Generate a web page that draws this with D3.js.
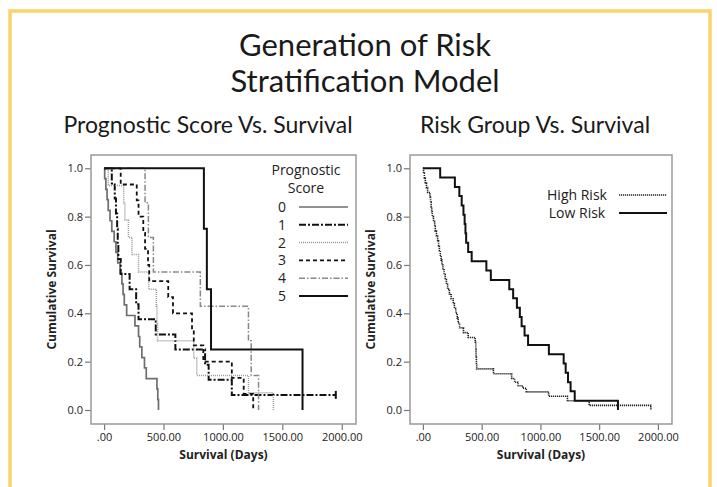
<!DOCTYPE html>
<html>
<head>
<meta charset="utf-8">
<script src="https://cdn.jsdelivr.net/npm/d3@7"></script>
<style>
  body { margin: 0; background: #fff; }
  text { font-family: "Open Sans", "Noto Sans", sans-serif; fill: #222; }
  .heading { font-family: Lato, "Open Sans", sans-serif; fill: #1a1a1a; }
</style>
</head>
<body>
<div id="chart-area"></div>
<script>
// data: [day, cumulative survival] after each event
var xTicks = [0, 500, 1000, 1500, 2000];
var yTicks = [0, 0.2, 0.4, 0.6, 0.8, 1.0];

var scoreLabels = ["0", "1", "2", "3", "4", "5"];
var score0 = [[0,1],[5,0.957],[15,0.913],[25,0.87],[35,0.826],[50,0.783],[65,0.739],[85,0.696],[100,0.652],[115,0.609],[135,0.565],[150,0.522],[160,0.478],[170,0.435],[190,0.391],[260,0.348],[290,0.304],[300,0.261],[318,0.217],[340,0.174],[355,0.130],[445,0.087],[452,0.043],[458,0]];
var score1 = [[0,1],[65,0.9375],[90,0.875],[100,0.8125],[110,0.75],[115,0.6875],[120,0.625],[140,0.5625],[215,0.5],[270,0.4375],[290,0.375],[435,0.3125],[600,0.25],[850,0.1875],[880,0.125],[1075,0.0625],[1950,0.0625]];
var score2 = [[0,1],[35,0.929],[165,0.857],[175,0.786],[205,0.714],[235,0.643],[290,0.571],[375,0.5],[440,0.429],[445,0.357],[450,0.286],[755,0.214],[780,0.143],[1215,0.071],[1425,0]];
var score3 = [[0,1],[140,0.933],[275,0.867],[290,0.8],[330,0.733],[345,0.667],[370,0.6],[380,0.533],[540,0.467],[580,0.4],[740,0.333],[755,0.267],[835,0.2],[1075,0.133],[1175,0.067],[1255,0]];
var score4 = [[0,1],[345,0.857],[373,0.714],[415,0.571],[810,0.429],[1215,0.286],[1238,0.143],[1300,0]];
var score5 = [[0,1],[840,0.75],[865,0.5],[900,0.25],[1670,0]];
var scoreCensored = [[1950, 0.0625]];

var riskLabels = ["High Risk", "Low Risk"];
var highRisk = [[0,1],[5,0.98],[12,0.96],[20,0.94],[30,0.92],[40,0.90],[60,0.88],[65,0.86],[70,0.84],[75,0.82],[80,0.80],[90,0.78],[100,0.76],[105,0.74],[115,0.72],[125,0.70],[133,0.68],[140,0.66],[148,0.64],[155,0.62],[162,0.60],[170,0.58],[180,0.56],[190,0.54],[200,0.52],[210,0.50],[225,0.48],[240,0.46],[258,0.44],[268,0.42],[280,0.40],[292,0.38],[300,0.36],[312,0.34],[345,0.32],[385,0.30],[445,0.28],[450,0.25],[452,0.22],[455,0.19],[458,0.17],[600,0.15],[755,0.13],[780,0.115],[810,0.10],[850,0.09],[880,0.075],[1070,0.057],[1230,0.038],[1415,0.019],[1940,0]];
var lowRisk = [[0,1],[147,0.9615],[272,0.923],[310,0.885],[330,0.846],[345,0.808],[355,0.769],[362,0.731],[368,0.692],[385,0.654],[415,0.615],[540,0.577],[578,0.538],[735,0.5],[768,0.462],[800,0.423],[825,0.385],[840,0.346],[865,0.308],[895,0.269],[1072,0.231],[1198,0.192],[1215,0.154],[1235,0.115],[1257,0.077],[1292,0.038],[1660,0]];

var width = 717;
var height = 487;

var svg = d3.select('#chart-area')
    .append('svg')
        .attr('width', width)
        .attr('height', height);

svg.append('rect')
    .attr('x', 0).attr('y', 0)
    .attr('width', width).attr('height', height)
    .attr('fill', '#fff');

// yellow frame
svg.append('rect')
    .attr('x', 10).attr('y', 11)
    .attr('width', 700).attr('height', 520)
    .attr('fill', 'none')
    .attr('stroke', '#fcd26c')
    .attr('stroke-width', 3.5);

svg.append('text')
    .attr('class', 'heading')
    .attr('x', 365).attr('y', 56)
    .attr('text-anchor', 'middle')
    .attr('font-size', '31px')
    .text('Generation of Risk');

svg.append('text')
    .attr('class', 'heading')
    .attr('x', 365).attr('y', 92)
    .attr('text-anchor', 'middle')
    .attr('font-size', '31px')
    .text('Stratification Model');

svg.append('text')
    .attr('class', 'heading')
    .attr('x', 208).attr('y', 133)
    .attr('text-anchor', 'middle')
    .attr('font-size', '23px')
    .text('Prognostic Score Vs. Survival');

svg.append('text')
    .attr('class', 'heading')
    .attr('x', 535).attr('y', 133)
    .attr('text-anchor', 'middle')
    .attr('font-size', '23px')
    .text('Risk Group Vs. Survival');

var styles = {
    s0: {stroke: '#6e6e6e', width: 1.7, dash: null},
    s1: {stroke: '#111', width: 2, dash: '7,2,2,2'},
    s2: {stroke: '#999', width: 1.5, dash: '1,1'},
    s3: {stroke: '#111', width: 1.8, dash: '4,3'},
    s4: {stroke: '#888', width: 1.5, dash: '6,2,1.5,2'},
    s5: {stroke: '#111', width: 2, dash: null},
    high: {stroke: '#222', width: 1.6, dash: '1.2,0.8'},
    low: {stroke: '#111', width: 2, dash: null}
};

function panel(left, right, series, keys) {
    var top = 155, bottom = 424;
    var x = d3.scaleLinear().domain([-110, 2120]).range([left, right]);
    var y = d3.scaleLinear().domain([-0.058, 1.055]).range([bottom, top]);
    var g = svg.append('g');

    var yAxis = d3.axisLeft(y).tickValues(yTicks).tickSize(6).tickPadding(2)
        .tickFormat(d3.format('.1f'));
    var ya = g.append('g')
        .attr('transform', 'translate(' + left + ',0)')
        .call(yAxis);
    var xAxis = d3.axisBottom(x).tickValues(xTicks).tickSize(6).tickPadding(3)
        .tickFormat((d) => { return d === 0 ? '.00' : d.toFixed(2); });
    var xa = g.append('g')
        .attr('transform', 'translate(0,' + bottom + ')')
        .call(xAxis);
    [ya, xa].forEach((a) => {
        a.select('.domain').remove();
        a.selectAll('line').attr('stroke', '#777').attr('stroke-width', 1.2);
        a.selectAll('text').attr('font-size', '11px').attr('fill', '#333')
            .attr('font-family', '"Open Sans", sans-serif');
    });

    g.append('rect')
        .attr('x', left).attr('y', top)
        .attr('width', right - left).attr('height', bottom - top)
        .attr('fill', 'none')
        .attr('stroke', '#999')
        .attr('stroke-width', 1.5);

    g.append('text')
        .attr('transform', 'translate(' + (left - 35) + ',' + ((top + bottom) / 2) + ') rotate(-90)')
        .attr('text-anchor', 'middle')
        .attr('font-size', '12px')
        .attr('font-weight', 'bold')
        .text('Cumulative Survival');

    g.append('text')
        .attr('x', (left + right) / 2).attr('y', bottom + 35)
        .attr('text-anchor', 'middle')
        .attr('font-size', '12px')
        .attr('font-weight', 'bold')
        .text('Survival (Days)');

    var line = d3.line()
        .x((d) => { return x(d[0]); })
        .y((d) => { return y(d[1]); })
        .curve(d3.curveStepAfter);

    series.forEach((s, i) => {
        var st = styles[keys[i]];
        g.append('path')
            .datum(s)
            .attr('d', line)
            .attr('fill', 'none')
            .attr('stroke', st.stroke)
            .attr('stroke-width', st.width)
            .attr('stroke-dasharray', st.dash);
    });
    return {g: g, x: x, y: y};
}

var p1 = panel(91, 356, [score0, score1, score2, score3, score4, score5], ['s0','s1','s2','s3','s4','s5']);
var p2 = panel(410, 672, [highRisk, lowRisk], ['high', 'low']);

// censor ticks
p1.g.selectAll('.censor').data(scoreCensored).enter()
    .append('line')
    .attr('x1', (d) => { return p1.x(d[0]); })
    .attr('x2', (d) => { return p1.x(d[0]); })
    .attr('y1', (d) => { return p1.y(d[1]) - 4; })
    .attr('y2', (d) => { return p1.y(d[1]) + 4; })
    .attr('stroke', '#111')
    .attr('stroke-width', 2);

// legend, prognostic score
var leg1 = p1.g.append('g');
leg1.append('text').attr('x', 306).attr('y', 175).attr('text-anchor', 'middle')
    .attr('font-size', '14px').text('Prognostic');
leg1.append('text').attr('x', 306).attr('y', 193).attr('text-anchor', 'middle')
    .attr('font-size', '14px').text('Score');
var legKeys = ['s0','s1','s2','s3','s4','s5'];
scoreLabels.forEach((lab, i) => {
    var yy = 207 + i * 17.8;
    var st = styles[legKeys[i]];
    leg1.append('text').attr('x', 282).attr('y', yy + 5).attr('text-anchor', 'middle')
        .attr('font-size', '14px').text(lab);
    leg1.append('line').attr('x1', 299).attr('x2', 348).attr('y1', yy).attr('y2', yy)
        .attr('stroke', st.stroke).attr('stroke-width', st.width)
        .attr('stroke-dasharray', st.dash);
});

// legend, risk group
var leg2 = p2.g.append('g');
var riskKeys = ['high', 'low'];
riskLabels.forEach((lab, i) => {
    var yy = 195 + i * 18;
    var st = styles[riskKeys[i]];
    leg2.append('text').attr('x', 577).attr('y', yy + 5).attr('text-anchor', 'middle')
        .attr('font-size', '14px').text(lab);
    leg2.append('line').attr('x1', 619).attr('x2', 667).attr('y1', yy).attr('y2', yy)
        .attr('stroke', st.stroke).attr('stroke-width', st.width)
        .attr('stroke-dasharray', st.dash);
});
</script>
</body>
</html>
